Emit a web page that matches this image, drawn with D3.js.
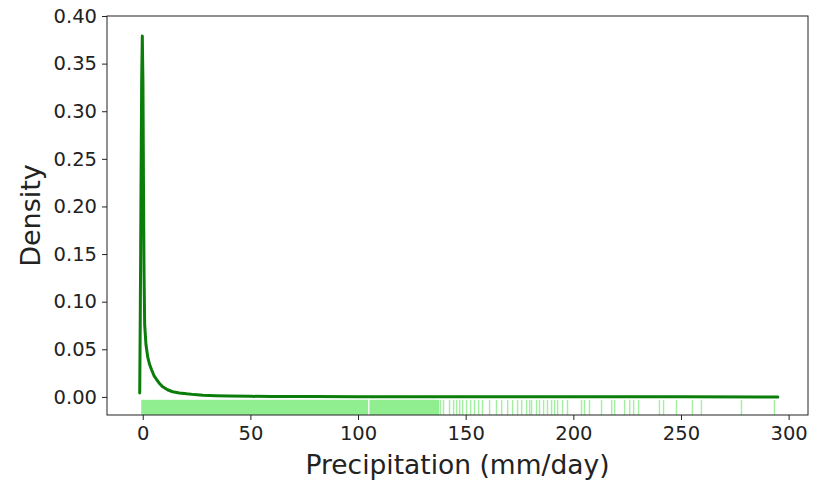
<!DOCTYPE html>
<html>
<head>
<meta charset="utf-8">
<script src="https://cdn.jsdelivr.net/npm/d3@7"></script>
<style>
  body { margin: 0; background: #fff; }
  svg text { font-family: "DejaVu Sans", sans-serif; fill: #222; }
</style>
</head>
<body>
<svg id="chart" width="813" height="484"></svg>
<script>
// KDE curve
const kdeX = [-1.4, -1.1, -0.8, -0.5, -0.2, 0.1, 0.35, 0.6, 0.9, 1.5, 2.3, 3.2, 4.2, 5.3, 6.5, 8, 9.3, 11.5, 13.9, 17, 20.4, 24, 28, 34, 40, 50, 60, 80, 100, 130, 160, 200, 250, 295];
const kdeY = [0.004, 0.10, 0.22, 0.33, 0.379, 0.33, 0.22, 0.13, 0.076, 0.055, 0.042, 0.034, 0.028, 0.022, 0.018, 0.0135, 0.0106, 0.0075, 0.0054, 0.0042, 0.0032, 0.0024, 0.0018, 0.0012, 0.0009, 0.0006, 0.0004, 0.0003, 0.0002, 0.00015, 0.0001, 0.00007, 0.00004, 0.00002];

// rug observations (mm/day)
const rugValues = [
  0, 1, 2, 3, 4, 5, 6, 7, 8, 9, 10, 11, 12, 13, 14, 15, 16, 17, 18, 19,
  20, 21, 22, 23, 24, 25, 26, 27, 28, 29, 30, 31, 32, 33, 34, 35, 36, 37, 38, 39,
  40, 41, 42, 43, 44, 45, 46, 47, 48, 49, 50, 51, 52, 53, 54, 55, 56, 57, 58, 59,
  60, 61, 62, 63, 64, 65, 66, 67, 68, 69, 70, 71, 72, 73, 74, 75, 76, 77, 78, 79,
  80, 81, 82, 83, 84, 85, 86, 87, 88, 89, 90, 91, 92, 93, 94, 95, 96, 97, 98, 99,
  100, 101, 102, 103, 104, 106, 107, 108, 109, 110, 111, 112, 113, 114, 115, 116, 117, 118, 119,
  120, 121, 122, 123, 124, 125, 126, 127, 128, 129, 130, 131, 132, 133, 134, 135, 136, 137,
  138.3, 139.7, 142.5, 144.4, 145.8, 147.2, 148.6, 150.4, 152.3, 154.1, 156.0, 157.8,
  161.1, 164.3, 166.7, 169.5, 171.8, 174.1, 176.0, 178.3, 179.7, 180.6, 182.9, 184.3,
  186.2, 188.0, 189.9, 191.3, 192.7, 195.0, 197.3, 203.8, 205.2, 207.5, 213.1, 217.8,
  219.2, 223.8, 226.2, 228.0, 230.3, 240.0, 241.9, 247.9, 255.3, 259.5, 278.1, 293.4
];

const xTicks = [0, 50, 100, 150, 200, 250, 300];
const yTicks = [0.00, 0.05, 0.10, 0.15, 0.20, 0.25, 0.30, 0.35, 0.40];

const margin = {left: 107, top: 16, right: 5, bottom: 69};
const width = 813 - margin.left - margin.right;
const height = 484 - margin.top - margin.bottom;

const svg = d3.select("#chart");
const g = svg.append("g")
    .attr("transform", `translate(${margin.left},${margin.top})`);

const x = d3.scaleLinear().domain([-16.6, 309]).range([0, width]);
const y = d3.scaleLinear().domain([-0.019, 0.40]).range([height, 0]);

// rug
const rugH = height * 0.038;
g.append("g").selectAll("line")
    .data(rugValues)
    .enter().append("line")
    .attr("x1", d => x(d)).attr("x2", d => x(d))
    .attr("y1", height).attr("y2", height - rugH)
    .attr("stroke", "#90ee90")
    .attr("stroke-width", d => d < 138 ? 3 : 1.4)
    .attr("opacity", d => d < 138 ? 1 : 0.85);

// density line
const pts = kdeX.map((d, i) => [d, kdeY[i]]);
g.append("path")
    .datum(pts)
    .attr("fill", "none")
    .attr("stroke", "#0a7d0a")
    .attr("stroke-width", 3)
    .attr("stroke-linejoin", "round")
    .attr("stroke-linecap", "round")
    .attr("d", d3.line().x(d => x(d[0])).y(d => y(d[1])));

// axes
const xAxis = g.append("g")
    .attr("transform", `translate(0,${height})`)
    .call(d3.axisBottom(x).tickValues(xTicks).tickSize(5).tickPadding(6).tickFormat(d3.format("d")));
const yAxis = g.append("g")
    .call(d3.axisLeft(y).tickValues(yTicks).tickSize(5).tickPadding(5).tickFormat(d3.format(".2f")));

[xAxis, yAxis].forEach(a => {
    a.select(".domain").remove();
    a.selectAll("text").style("font-size", "19.5px").attr("fill", "#222");
    a.selectAll("line").attr("stroke", "#222");
});

// frame
g.append("rect")
    .attr("width", width).attr("height", height)
    .attr("fill", "none").attr("stroke", "#222").attr("stroke-width", 1);

// labels
svg.append("text")
    .attr("x", margin.left + width / 2)
    .attr("y", 474)
    .attr("text-anchor", "middle")
    .style("font-size", "26.5px")
    .text("Precipitation (mm/day)");

svg.append("text")
    .attr("transform", `translate(40,${margin.top + height / 2}) rotate(-90)`)
    .attr("text-anchor", "middle")
    .style("font-size", "27px")
    .text("Density");
</script>
</body>
</html>
